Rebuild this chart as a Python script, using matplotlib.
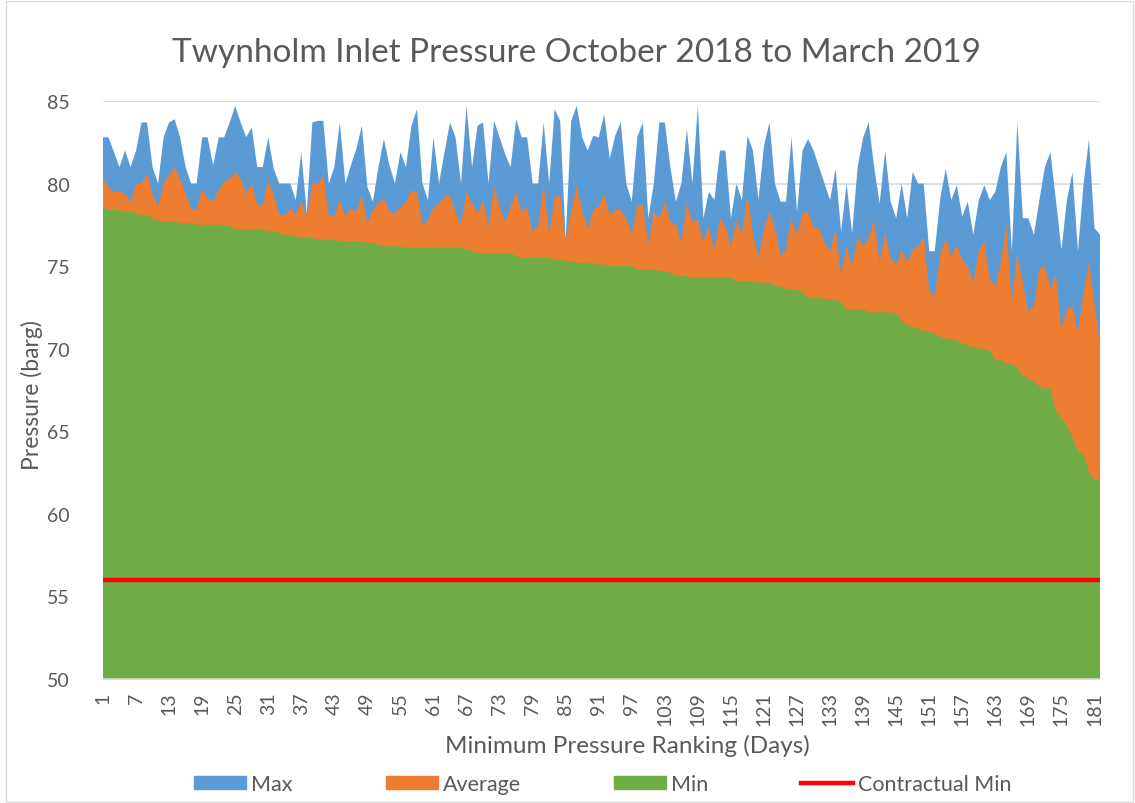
import numpy as np
import matplotlib
matplotlib.use("Agg")
import matplotlib.pyplot as plt
from matplotlib.patches import Patch, Rectangle
from matplotlib.lines import Line2D

plt.rcParams['font.family'] = ['Lato', 'DejaVu Sans']

days = np.arange(1, 183)

max_p = [
    82.8, 82.8, 81.9, 81.0, 82.0, 81.0, 82.0, 83.7, 83.7, 81.0,
    80.0, 82.8, 83.7, 83.9, 82.8, 81.0, 80.0, 80.0, 82.8, 82.8,
    81.1, 82.8, 82.8, 83.7, 84.7, 83.7, 82.8, 83.4, 81.0, 81.0,
    82.8, 80.9, 80.0, 80.0, 80.0, 79.0, 81.9, 78.2, 83.7, 83.8,
    83.8, 80.0, 81.0, 83.7, 80.0, 81.1, 82.1, 83.5, 79.8, 78.9,
    81.0, 82.7, 81.1, 80.0, 81.9, 81.0, 83.5, 84.5, 80.0, 79.0,
    82.8, 80.0, 81.9, 83.7, 82.8, 80.0, 84.7, 81.0, 83.5, 83.7,
    80.0, 83.8, 82.8, 81.8, 81.0, 83.9, 82.8, 82.8, 80.0, 80.0,
    83.7, 80.0, 84.5, 83.8, 76.6, 83.8, 84.7, 82.8, 82.0, 82.9,
    82.8, 84.2, 81.5, 82.9, 83.7, 80.0, 78.9, 82.8, 83.7, 77.9,
    80.0, 83.7, 83.7, 81.0, 78.9, 80.0, 83.3, 80.0, 84.7, 77.9,
    79.5, 79.0, 82.0, 82.0, 77.9, 80.0, 79.0, 82.9, 82.0, 79.0,
    82.3, 83.7, 80.0, 78.9, 78.9, 82.8, 78.3, 82.0, 82.7, 82.0,
    81.0, 80.0, 79.0, 80.9, 77.1, 80.0, 77.0, 81.0, 82.8, 83.7,
    81.0, 78.8, 82.0, 78.9, 77.9, 80.0, 77.9, 80.7, 80.0, 80.0,
    75.9, 75.9, 79.1, 80.9, 79.0, 79.9, 78.0, 78.9, 76.9, 79.0,
    79.9, 79.0, 79.5, 81.0, 81.9, 75.9, 83.7, 77.9, 77.9, 76.9,
    79.0, 81.0, 81.9, 79.0, 76.0, 79.0, 80.7, 75.9, 79.9, 82.7,
    77.3, 76.9,
]

avg_p = [
    80.3, 79.8, 79.5, 79.5, 79.4, 78.9, 80.0, 80.0, 80.6, 79.4,
    78.6, 80.0, 80.5, 81.0, 80.3, 79.4, 78.5, 78.4, 79.7, 79.1,
    78.9, 79.6, 80.1, 80.3, 80.7, 80.3, 79.4, 80.0, 78.7, 78.7,
    80.2, 79.3, 78.1, 78.1, 78.5, 78.1, 78.9, 78.0, 80.0, 80.0,
    80.5, 78.1, 78.0, 79.0, 78.0, 78.5, 78.3, 79.3, 77.6, 78.4,
    78.8, 79.1, 78.3, 78.2, 78.5, 78.9, 79.6, 79.5, 77.5, 77.8,
    78.5, 78.8, 79.2, 79.3, 78.3, 77.5, 79.5, 78.8, 78.2, 79.0,
    77.4, 79.8, 78.6, 77.7, 78.6, 79.5, 78.3, 78.6, 77.1, 77.4,
    80.0, 76.9, 79.2, 79.3, 76.5, 78.3, 79.9, 78.4, 77.2, 78.4,
    78.6, 79.4, 78.1, 78.4, 78.4, 77.9, 76.9, 78.7, 78.7, 76.3,
    78.3, 77.9, 78.9, 77.7, 77.5, 76.4, 78.8, 77.7, 77.8, 76.5,
    77.4, 76.0, 77.9, 77.4, 76.2, 77.8, 76.9, 79.3, 77.0, 75.5,
    77.3, 78.3, 77.3, 75.6, 76.0, 77.9, 76.9, 78.2, 78.3, 77.3,
    77.3, 76.4, 75.9, 77.2, 74.5, 76.2, 75.0, 76.8, 76.2, 76.7,
    77.8, 75.2, 77.0, 75.5, 75.1, 76.0, 75.2, 76.0, 76.2, 76.8,
    73.5, 73.2, 75.7, 76.7, 75.6, 76.3, 75.4, 75.0, 74.0, 75.9,
    76.5, 74.2, 73.8, 75.2, 77.5, 72.8, 75.8, 74.0, 72.2, 72.6,
    74.9, 75.0, 73.7, 74.5, 71.2, 72.4, 72.6, 71.0, 73.4, 75.3,
    72.8, 70.2,
]

min_p = [
    78.6, 78.4, 78.4, 78.4, 78.3, 78.3, 78.2, 78.1, 78.1, 77.9,
    77.8, 77.7, 77.7, 77.7, 77.6, 77.6, 77.6, 77.5, 77.5, 77.5,
    77.5, 77.5, 77.5, 77.4, 77.3, 77.2, 77.2, 77.2, 77.2, 77.2,
    77.1, 77.1, 77.0, 76.9, 76.9, 76.8, 76.7, 76.7, 76.7, 76.6,
    76.6, 76.6, 76.6, 76.5, 76.5, 76.5, 76.5, 76.5, 76.4, 76.4,
    76.3, 76.2, 76.2, 76.2, 76.2, 76.1, 76.1, 76.1, 76.1, 76.1,
    76.1, 76.1, 76.1, 76.1, 76.1, 76.1, 76.0, 75.9, 75.8, 75.8,
    75.8, 75.8, 75.8, 75.8, 75.8, 75.6, 75.5, 75.5, 75.5, 75.5,
    75.5, 75.5, 75.4, 75.4, 75.3, 75.3, 75.2, 75.2, 75.2, 75.1,
    75.1, 75.1, 75.0, 75.0, 75.0, 75.0, 75.0, 74.8, 74.8, 74.8,
    74.8, 74.7, 74.7, 74.6, 74.4, 74.4, 74.4, 74.3, 74.3, 74.3,
    74.3, 74.3, 74.3, 74.3, 74.3, 74.1, 74.1, 74.1, 74.1, 74.0,
    74.0, 74.0, 73.8, 73.8, 73.6, 73.6, 73.6, 73.4, 73.1, 73.1,
    73.1, 73.0, 73.0, 73.0, 72.8, 72.4, 72.4, 72.4, 72.4, 72.2,
    72.2, 72.2, 72.2, 72.2, 72.1, 71.7, 71.4, 71.3, 71.2, 71.1,
    71.0, 70.9, 70.7, 70.6, 70.6, 70.5, 70.3, 70.2, 70.1, 70.0,
    70.0, 69.9, 69.3, 69.3, 69.1, 69.1, 68.8, 68.4, 68.2, 68.0,
    67.7, 67.6, 67.6, 66.2, 65.8, 65.4, 64.6, 63.8, 63.6, 62.5,
    62.1, 62.1,
]

contractual_min = 56
tick_days = list(range(1, 183, 6))

blue = '#5B9BD5'
orange = '#ED7D31'
green = '#70AD47'
red = '#FF0000'
grey_text = '#595959'

W, H = 1135, 804
fig = plt.figure(figsize=(W / 100, H / 100), dpi=100)
ax = fig.add_axes([103 / W, 1 - 680 / H, 997 / W, 578 / H])

ax.fill_between(days, 0, max_p, color=blue, lw=0)
ax.fill_between(days, 0, avg_p, color=orange, lw=0)
ax.fill_between(days, 0, min_p, color=green, lw=0)
ax.plot(days, [contractual_min] * len(days), color=red, lw=3.2, solid_capstyle='butt')

ax.set_xlim(1, 182)
ax.set_ylim(50, 85)
ax.set_yticks(range(50, 86, 5))
ax.set_xticks(tick_days)
ax.set_xticklabels([str(d) for d in tick_days], rotation=90, va='top')
ax.tick_params(axis='y', length=0, pad=24, labelsize=14, labelcolor=grey_text)
ax.tick_params(axis='x', length=0, pad=9, labelsize=14, labelcolor=grey_text)
ax.set_axisbelow(True)
ax.yaxis.grid(True, color='#d9d9d9', lw=1.2)
for s in ['top', 'right', 'left']:
    ax.spines[s].set_visible(False)
ax.spines['bottom'].set_color('#d9d9d9')
ax.spines['bottom'].set_linewidth(1.2)

fig.text(577 / W, 1 - 53 / H, 'Twynholm Inlet Pressure October 2018 to March 2019',
         ha='center', va='center', fontsize=24, color=grey_text)
fig.text(32 / W, 1 - 395 / H, 'Pressure (barg)', rotation=90,
         ha='center', va='center', fontsize=16.5, color=grey_text)
fig.text(627 / W, 1 - 746 / H, 'Minimum Pressure Ranking (Days)',
         ha='center', va='center', fontsize=17.5, color=grey_text)

handles = [Patch(color=blue), Patch(color=orange), Patch(color=green),
           Line2D([0], [0], color=red, lw=3.2)]
labels = ['Max', 'Average', 'Min', 'Contractual Min']
fs = 15.5
em = fs * 100 / 72
fig.legend(handles, labels, loc='center', bbox_to_anchor=(603 / W, 1 - 785 / H),
           ncol=4, frameon=False, fontsize=fs, labelcolor=grey_text,
           handlelength=52 / em, handleheight=13 / em, handletextpad=5 / em,
           columnspacing=93 / em, borderpad=0)

fig.patches.append(Rectangle((6 / W, 1 / H), 1127 / W, 801 / H, transform=fig.transFigure,
                             fill=False, edgecolor='#d9d9d9', lw=1))

fig.savefig('out.png', dpi=100)
